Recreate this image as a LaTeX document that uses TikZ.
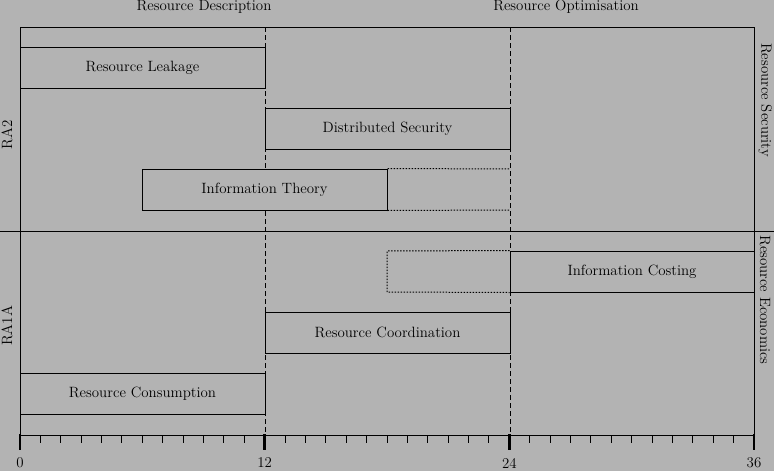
\documentclass[tikz,border=0pt]{standalone}
\usepackage{tikz}
\definecolor{bggray}{RGB}{179,179,179}
\begin{document}
\begin{tikzpicture}[x=1pt,y=-1pt,
  every node/.style={font=\fontsize{14.9}{17.9}\selectfont},
  bar/.style={draw, fill=bggray, line width=1pt, minimum height=41pt, inner sep=0pt, minimum width=245pt},
  frame/.style={line width=1pt},
  guide/.style={line width=1pt, dash pattern=on 5pt off 3pt},
  ext/.style={line width=1pt, dash pattern=on 1.5pt off 1.5pt},
  minortick/.style={line width=1pt},
  majortick/.style={line width=2.5pt},
  ticklbl/.style={anchor=center}
]
\fill[bggray] (0,0) rectangle (774,471);
\useasboundingbox (0,0) rectangle (774,471);

% frame
\coordinate (tl) at (20,27);
\coordinate (tr) at (754,27);
\coordinate (bl) at (20,435);
\coordinate (br) at (754,435);
\coordinate (ml) at (0,231);
\coordinate (mr) at (774,231);
\draw[frame] (bl) -- (tl) -- (tr) -- (br);
\draw[frame] (bl) -- (br);
\draw[frame] (ml) -- (mr);

% guides
\coordinate (g12t) at (265,27);
\coordinate (g12b) at (265,435);
\coordinate (g24t) at (510,27);
\coordinate (g24b) at (510,435);
\draw[guide] (g12t) -- (g12b);
\draw[guide] (g24t) -- (g24b);

% ticks
\foreach \i in {1,...,35} {
  \draw[minortick] (20+20.3889*\i,435) -- (20+20.3889*\i,443);
}
\foreach \i/\l in {0/0,1/12,2/24,3/36} {
  \draw[majortick] (20+244.667*\i,434) -- (20+244.667*\i,450);
  \node[ticklbl] (t\l) at (20+244.667*\i,463) {\l};
}

% bars
\node[bar] (leak) at (142.5,67.5) {Resource Leakage};
\node[bar] (dsec) at (387.5,128.5) {Distributed Security};
\node[bar] (itheory) at (264.5,189.5) {Information Theory};
\node[bar, minimum width=244pt] (icost) at (632,271.5) {Information Costing};
\node[bar] (rcoord) at (387.5,332.5) {Resource Coordination};
\node[bar] (rcons) at (142.5,393.5) {Resource Consumption};

% dotted extensions
\draw[ext] (itheory.north east) -- (510,169) (itheory.south east) -- (510,210);
\draw[ext] (icost.north west) -- (387,251) -- (387,292) -- (icost.south west);

% labels
\node (rdesc) at (204,7) {Resource Description};
\node (ropt) at (566,7) {Resource Optimisation};
\node[rotate=90] (ra2) at (7,135) {RA2};
\node[rotate=90] (ra1a) at (7,326) {RA1A};
\node[rotate=-90] (rsec) at (765,100) {Resource Security};
\node[rotate=-90] (recon) at (765,300) {Resource Economics};
\end{tikzpicture}
\end{document}
